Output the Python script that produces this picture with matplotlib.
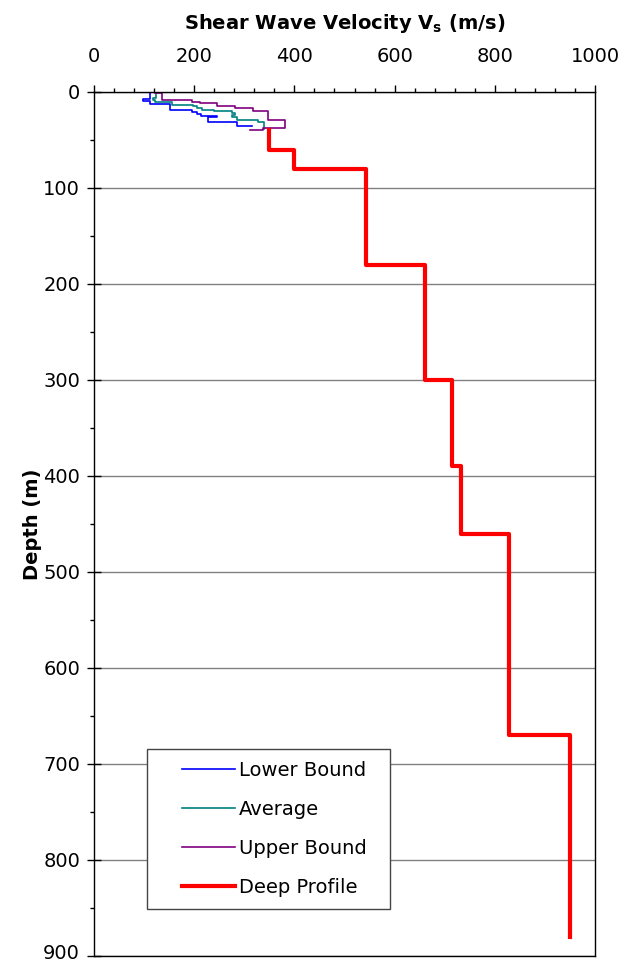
import numpy as np
import matplotlib
matplotlib.use("Agg")
from matplotlib import pyplot as plt
from matplotlib.ticker import MultipleLocator
from matplotlib.legend_handler import HandlerLine2D
from matplotlib.transforms import ScaledTranslation

plt.rcParams['font.family'] = ['DejaVu Sans']

# shallow profiles (Vs m/s, depth m), step paths
lower_vs = [90, 112, 112, 97, 97, 112, 112, 152, 152, 195, 195, 205, 205, 214, 214, 245, 245, 228, 228, 285, 285, 315]
lower_d = [0.5, 0.5, 7, 7, 9, 9, 12.5, 12.5, 18.7, 18.7, 21, 21, 23, 23, 25.5, 25.5, 26.5, 26.5, 31.5, 31.5, 35.5, 35.5]

avg_vs = [102, 124, 124, 118, 118, 122, 122, 155, 155, 198, 198, 206, 206, 215, 215, 240, 240, 275, 275, 282, 282, 275, 275, 285, 285, 328, 328, 339, 339]
avg_d = [0.5, 0.5, 6.5, 6.5, 8, 8, 10.5, 10.5, 13.5, 13.5, 15, 15, 17, 17, 18.5, 18.5, 20, 20, 22, 22, 24, 24, 26, 26, 29, 29, 31.5, 31.5, 39]

upper_vs = [122, 135, 135, 195, 195, 212, 212, 245, 245, 281, 281, 318, 318, 348, 348, 381, 381, 338, 338, 312]
upper_d = [1, 1, 8.3, 8.3, 10.8, 10.8, 11.8, 11.8, 14.2, 14.2, 17, 17, 19.5, 19.5, 29, 29, 38, 38, 40, 40]

# deep profile
deep_vs = [350, 350, 400, 400, 542, 542, 660, 660, 715, 715, 732, 732, 828, 828, 950, 950]
deep_d = [40, 60, 60, 80, 80, 180, 180, 300, 300, 390, 390, 460, 460, 670, 670, 880]

fig = plt.figure(figsize=(6.38, 9.63), dpi=100)
ax = fig.add_axes([0.1473, 0.0073, 0.7853, 0.8972])

ax.plot(lower_vs, lower_d, color='#0000FF', lw=1.2, label='Lower Bound')
ax.plot(avg_vs, avg_d, color='#008080', lw=1.2, label='Average')
ax.plot(upper_vs, upper_d, color='#800080', lw=1.2, label='Upper Bound')
ax.plot(deep_vs, deep_d, color='#FF0000', lw=3, label='Deep Profile')

ax.set_xlim(0, 1000)
ax.set_ylim(900, 0)
ax.xaxis.set_major_locator(MultipleLocator(200))
ax.xaxis.set_minor_locator(MultipleLocator(40))
ax.yaxis.set_major_locator(MultipleLocator(100))
ax.yaxis.set_minor_locator(MultipleLocator(50))
ax.xaxis.tick_top()
ax.xaxis.set_label_position('top')
ax.tick_params(axis='x', which='major', direction='out', length=5, width=1, labelsize=14, pad=14)
ax.tick_params(axis='x', which='minor', direction='out', length=3, width=1)
ax.tick_params(axis='y', which='major', direction='inout', length=10, width=1, labelsize=14, pad=5)
ax.tick_params(axis='y', which='minor', direction='out', length=3, width=1)

ax.grid(axis='y', which='major', color='#808080', lw=1)
for s in ax.spines.values():
    s.set_color('black')
    s.set_linewidth(1)

ax.set_xlabel('Shear Wave Velocity V$_\\mathregular{s}$ (m/s)', fontsize=14, fontweight='bold', labelpad=13)
ax.set_ylabel('Depth (m)', fontsize=14, fontweight='bold', labelpad=1)

# nudge the bottom depth label so it stays inside the figure
fig.canvas.draw()
for t in ax.get_yticklabels():
    if t.get_text() == '900':
        t.set_transform(t.get_transform() + ScaledTranslation(0, 3 / 72, fig.dpi_scale_trans))

fs = 14
hmap = {l: HandlerLine2D(xpad=1.2) for l in ax.get_lines()}
leg = ax.legend(loc='upper left', bbox_to_anchor=(0.1058, 0.0, 0.485, 0.2396), mode='expand',
                borderaxespad=0, fancybox=False, framealpha=1, edgecolor='#444444', fontsize=fs,
                labelspacing=1.02, handlelength=3.9, handletextpad=0.22, borderpad=0.62,
                handler_map=hmap)
leg.get_frame().set_linewidth(1)

fig.savefig('out.png', dpi=100)
